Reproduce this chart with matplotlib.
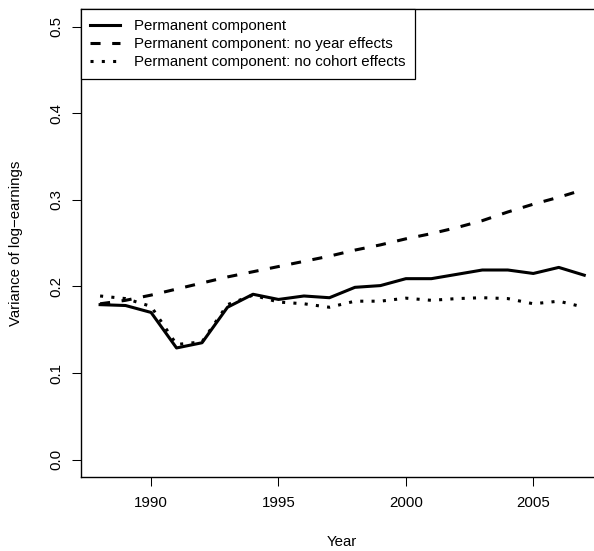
import matplotlib
matplotlib.use("Agg")
import matplotlib.pyplot as plt

plt.rcParams['font.family'] = ['Liberation Sans', 'DejaVu Sans']

years = list(range(1988, 2008))

# variance of the permanent component, full model
perm = [0.179, 0.178, 0.170, 0.129, 0.135, 0.176, 0.191, 0.185, 0.189, 0.187,
        0.199, 0.201, 0.209, 0.209, 0.214, 0.219, 0.219, 0.215, 0.222, 0.213]
# without year effects
perm_no_year = [0.180, 0.184, 0.190, 0.197, 0.204, 0.211, 0.217, 0.223, 0.229, 0.235,
                0.242, 0.248, 0.255, 0.261, 0.268, 0.276, 0.286, 0.295, 0.303, 0.312]
# without cohort effects
perm_no_cohort = [0.189, 0.186, 0.177, 0.133, 0.136, 0.179, 0.190, 0.182, 0.180, 0.176,
                  0.183, 0.183, 0.1865, 0.184, 0.186, 0.187, 0.186, 0.180, 0.183, 0.176]

xticks = [1990, 1995, 2000, 2005]
yticks = [0.0, 0.1, 0.2, 0.3, 0.4, 0.5]
ytick_labels = ["0.0", "0.1", "0.2", "0.3", "0.4", "0.5"]

fig = plt.figure(figsize=(5.94, 5.51), dpi=100)
# plot box runs a little past the right edge of the canvas
ax = fig.add_axes([0.1359, 0.1343, 0.8803, 0.8488])

lw = 2.2
ax.plot(years, perm, color="black", lw=lw, ls="-", label="Permanent component")
ax.plot(years, perm_no_year, color="black", lw=lw, ls=(0, (3.3, 3.8)),
        label="Permanent component: no year effects")
ax.plot(years, perm_no_cohort, color="black", lw=lw, ls=(0, (1, 2.7)),
        dash_capstyle="butt", label="Permanent component: no cohort effects")

ax.set_xlim(1987.24, 2007.76)
ax.set_ylim(-0.02, 0.52)
ax.set_xticks(xticks)
ax.set_xticklabels([str(t) for t in xticks])
ax.set_yticks(yticks)
ax.set_yticklabels(ytick_labels, rotation=90, va="center")

for s in ax.spines.values():
    s.set_linewidth(1.0)
    s.set_color("black")
ax.spines["right"].set_visible(False)

ax.tick_params(axis="both", direction="out", length=6.5, width=0.75,
               labelsize=10.8, colors="black")
ax.tick_params(axis="x", pad=7)
ax.tick_params(axis="y", pad=6)

ax.set_xlabel("Year", fontsize=10.8)
ax.set_ylabel("Variance of log\u2212earnings", fontsize=10.8)
ax.xaxis.set_label_coords(0.5, -0.123)
ax.yaxis.set_label_coords(-0.111, 0.5)

leg = ax.legend(loc="upper left", bbox_to_anchor=(0, 1), borderaxespad=0,
                fontsize=10.8, frameon=True, fancybox=False, shadow=False,
                handlelength=2.0, handletextpad=0.93, borderpad=0.64,
                labelspacing=0.28)
frame = leg.get_frame()
frame.set_edgecolor("black")
frame.set_linewidth(0.9)
frame.set_alpha(1)

fig.savefig("out.png", dpi=100, facecolor="white")
